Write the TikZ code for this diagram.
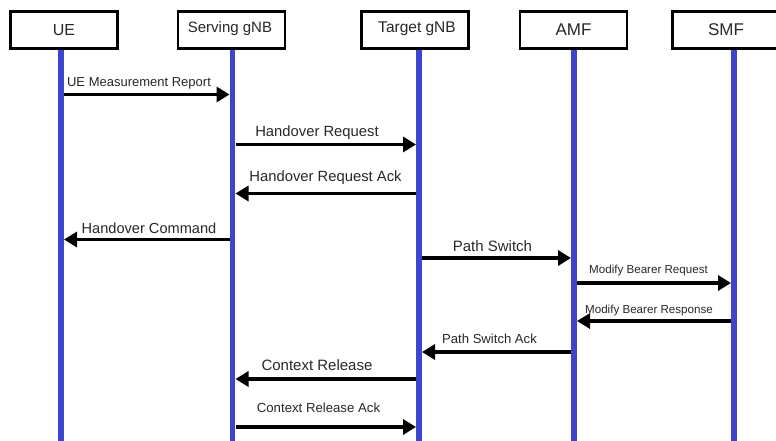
\documentclass[tikz,border=0pt]{standalone}
\usepackage{fontspec}
\setmainfont{Liberation Sans}
\usetikzlibrary{arrows.meta}
\definecolor{lifeblue}{RGB}{62,68,206}
\definecolor{txt}{RGB}{40,40,40}
\newcommand{\fsz}[1]{\fontsize{#1}{#1}\selectfont}
\tikzset{
  actor/.style={draw=black, line width=2.2pt, fill=white, minimum width=107pt,
    minimum height=37pt, inner sep=0pt, text=txt},
  lifeline/.style={draw=lifeblue, line width=5.5pt},
  msg/.style={draw=black, line width=3.4pt,
    -{Triangle[length=13pt,width=15pt]}, shorten >=3pt, shorten <=3pt},
  lbl/.style={inner sep=0pt, anchor=base, text=txt}
}
\begin{document}
\begin{tikzpicture}[x=1pt,y=1pt]
\useasboundingbox (0,0) rectangle (776,-441);
\fill[white] (0,0) rectangle (776,-441);

% participants
\node[actor, font=\fsz{16}] (ue) at (64,-30) {UE};
\node[actor, font=\fsz{15}, text depth=4pt, text height=11pt] (sgnb) at (231.5,-30) {};
\node[actor, font=\fsz{15}] (tgnb) at (415,-30) {};
\node[actor, font=\fsz{17}] (amf) at (573.5,-30) {AMF};
\node[actor, font=\fsz{17}] (smf) at (726,-30) {SMF};
\node[lbl, font=\fsz{15}] (sgnbt) at (230,-33) {Serving gNB};
\node[lbl, font=\fsz{15.5}] (tgnbt) at (417,-33) {Target gNB};

% lifeline ends
\coordinate (uex) at (61,0);
\coordinate (sgnbx) at (232.5,0);
\coordinate (tgnbx) at (419,0);
\coordinate (amfx) at (574,0);
\coordinate (smfx) at (734,0);
\coordinate (bottom) at (0,-441);

\draw[lifeline] (uex |- ue.south) -- (uex |- bottom);
\draw[lifeline] (sgnbx |- sgnb.south) -- (sgnbx |- bottom);
\draw[lifeline] (tgnbx |- tgnb.south) -- (tgnbx |- bottom);
\draw[lifeline] (amfx |- amf.south) -- (amfx |- bottom);
\draw[lifeline] (smfx |- smf.south) -- (smfx |- bottom);

% message levels
\coordinate (m1) at (0,-94.5);
\coordinate (m2) at (0,-144.5);
\coordinate (m3) at (0,-193.5);
\coordinate (m4) at (0,-239.5);
\coordinate (m5) at (0,-258);
\coordinate (m6) at (0,-283);
\coordinate (m7) at (0,-321);
\coordinate (m8) at (0,-352);
\coordinate (m9) at (0,-379);
\coordinate (m10) at (0,-427);

% messages
\draw[msg] (uex |- m1) -- (sgnbx |- m1);
\node[lbl, font=\fsz{13}] (l1) at (139,-87) {UE Measurement Report};

\draw[msg] (sgnbx |- m2) -- (tgnbx |- m2);
\node[lbl, font=\fsz{14.8}] (l2) at (317,-136) {Handover Request};

\draw[msg] (tgnbx |- m3) -- (sgnbx |- m3);
\node[lbl, font=\fsz{14.8}] (l3) at (325.5,-181) {Handover Request Ack};

\draw[msg] (sgnbx |- m4) -- (uex |- m4);
\node[lbl, font=\fsz{14.6}] (l4) at (149,-233.5) {Handover Command};

\draw[msg] (tgnbx |- m5) -- (amfx |- m5);
\node[lbl, font=\fsz{15}] (l5) at (492.5,-251) {Path Switch};

\draw[msg] (amfx |- m6) -- (smfx |- m6);
\node[lbl, font=\fsz{11.6}] (l6) at (648.5,-273) {Modify Bearer Request};

\draw[msg] (smfx |- m7) -- (amfx |- m7);
\node[lbl, font=\fsz{11.6}] (l7) at (649,-313) {Modify Bearer Response};

\draw[msg] (amfx |- m8) -- (tgnbx |- m8);
\node[lbl, font=\fsz{13.1}] (l8) at (489.5,-343) {Path Switch Ack};

\draw[msg] (tgnbx |- m9) -- (sgnbx |- m9);
\node[lbl, font=\fsz{15}] (l9) at (317,-370.5) {Context Release};

\draw[msg] (sgnbx |- m10) -- (tgnbx |- m10);
\node[lbl, font=\fsz{13.2}] (l10) at (318.5,-412.5) {Context Release Ack};
\end{tikzpicture}
\end{document}
